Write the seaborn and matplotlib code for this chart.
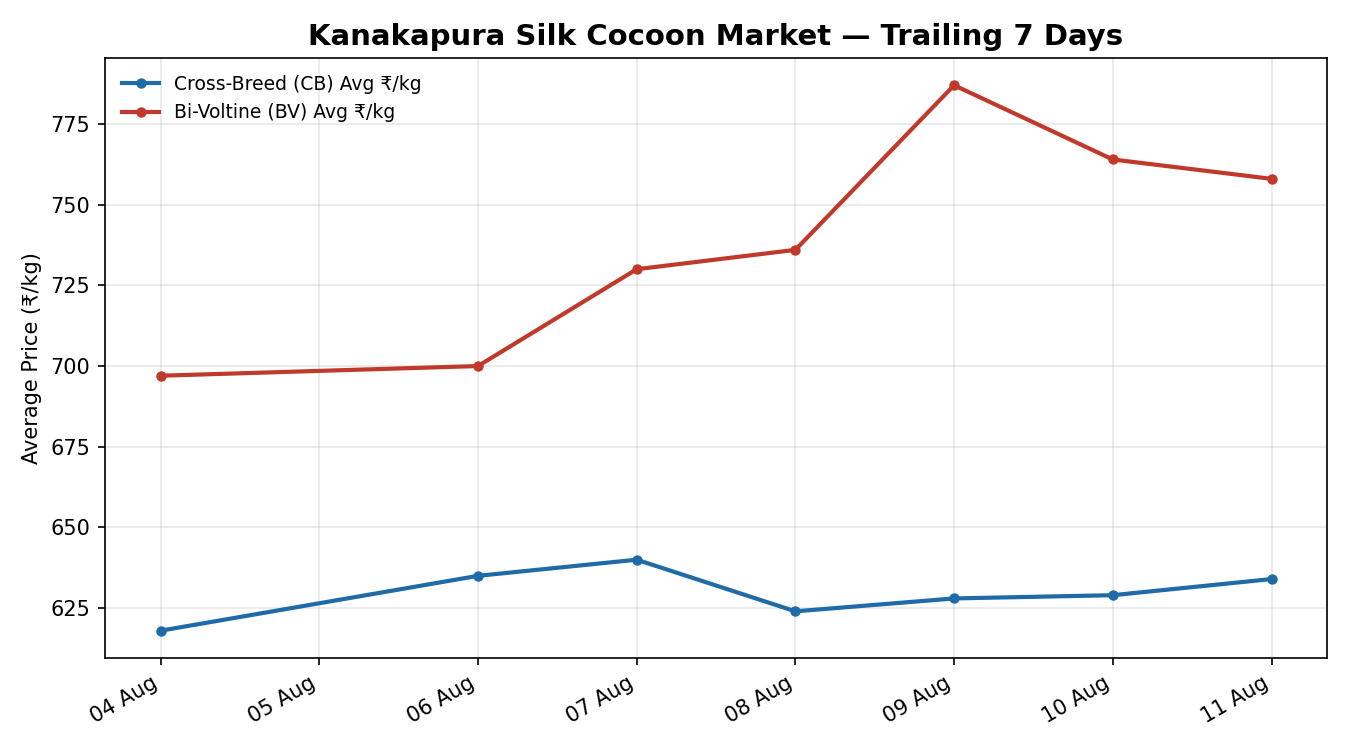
import pandas as pd
import matplotlib
matplotlib.use('Agg')
import matplotlib.pyplot as plt
import matplotlib.dates as mdates
import seaborn as sns

dates = ['2024-08-04', '2024-08-06', '2024-08-07', '2024-08-08',
         '2024-08-09', '2024-08-10', '2024-08-11']
cb_avg = [618, 635, 640, 624, 628, 629, 634]
bv_avg = [697, 700, 730, 736, 787, 764, 758]

df = pd.DataFrame({'date': pd.to_datetime(dates), 'cb': cb_avg, 'bv': bv_avg})

plt.rcParams['font.family'] = ['DejaVu Sans']

fig = plt.figure(figsize=(9, 5), dpi=150)
ax = fig.add_axes([0.0778, 0.1227, 0.9052, 0.80])
sns.lineplot(data=df, x='date', y='cb', marker='o', markersize=5, markeredgewidth=0,
             linewidth=2, color='#1f6ba8', label='Cross-Breed (CB) Avg ₹/kg', ax=ax)
sns.lineplot(data=df, x='date', y='bv', marker='o', markersize=5, markeredgewidth=0,
             linewidth=2, color='#c0392b', label='Bi-Voltine (BV) Avg ₹/kg', ax=ax)

ax.xaxis.set_major_locator(mdates.DayLocator())
ax.xaxis.set_major_formatter(mdates.DateFormatter('%d Aug'))
plt.setp(ax.get_xticklabels(), rotation=30, ha='right')
ax.set_xlabel('')
ax.set_ylabel('Average Price (₹/kg)', fontsize=10)
ax.set_title('Kanakapura Silk Cocoon Market — Trailing 7 Days', fontsize=14, fontweight='bold')
ax.grid(True, alpha=0.3)
ax.legend(loc='upper left', frameon=False, fontsize=9)

plt.savefig('out.png', dpi=150)
